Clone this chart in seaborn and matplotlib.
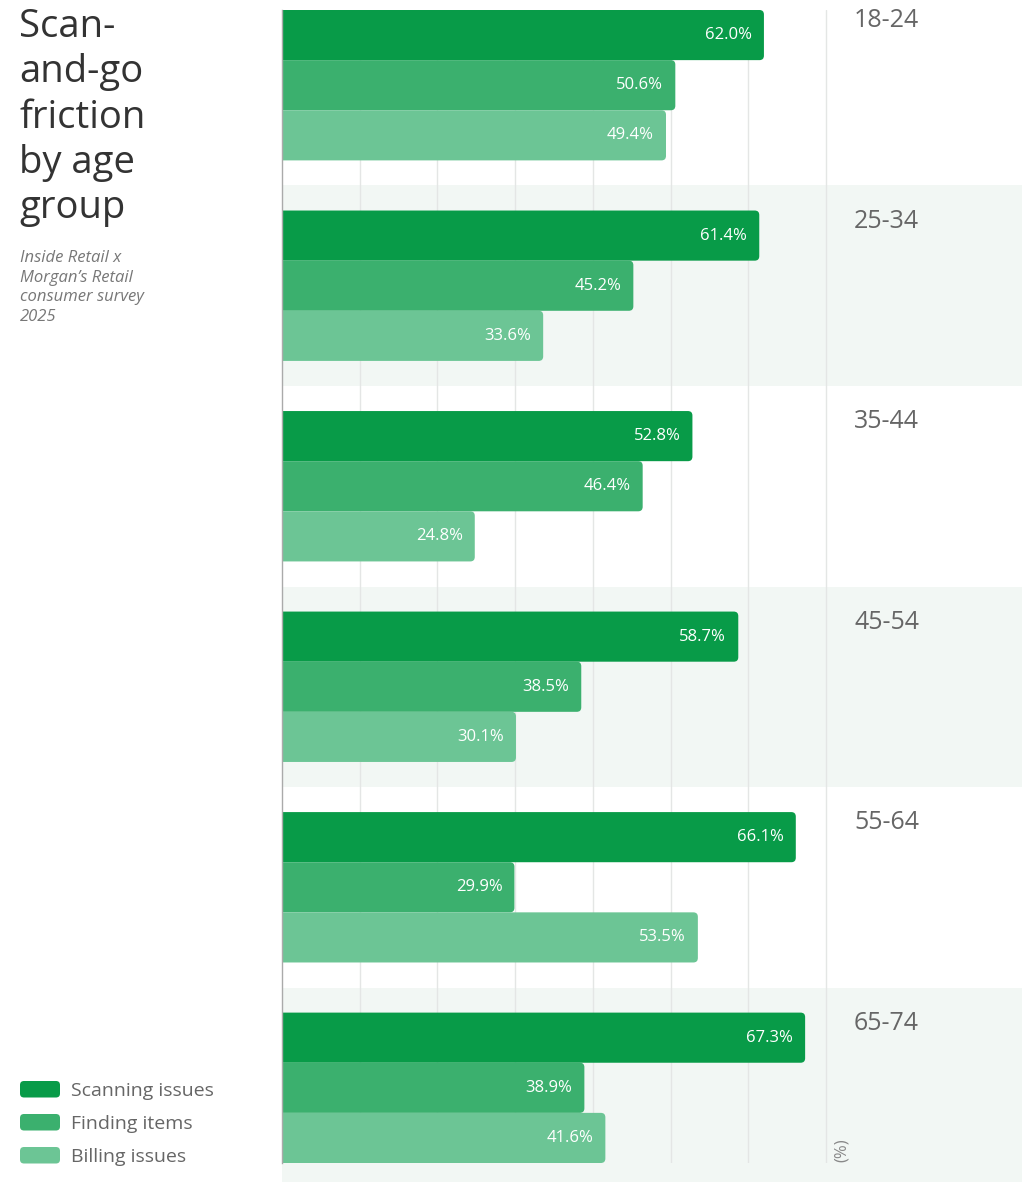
import numpy as np
import pandas as pd
import seaborn as sns
import matplotlib.pyplot as plt
from matplotlib.patches import FancyBboxPatch, Rectangle
import matplotlib.transforms as mtransforms

age_groups = ["18-24", "25-34", "35-44", "45-54", "55-64", "65-74"]
scanning_issues = [62.0, 61.4, 52.8, 58.7, 66.1, 67.3]
finding_items = [50.6, 45.2, 46.4, 38.5, 29.9, 38.9]
billing_issues = [49.4, 33.6, 24.8, 30.1, 53.5, 41.6]
series_names = ["Scanning issues", "Finding items", "Billing issues"]
series_colors = ["#089b48", "#3bb06e", "#6cc595"]

title_lines = ["Scan-", "and-go", "friction", "by age", "group"]
source_lines = ["Inside Retail x", "Morgan\u2019s Retail", "consumer survey", "2025"]

df = pd.DataFrame({
    "age": np.repeat(age_groups, 3),
    "issue": series_names * len(age_groups),
    "share": np.ravel(np.column_stack([scanning_issues, finding_items, billing_issues])),
})

sns.set_theme(style="white")
plt.rcParams["font.family"] = ["Open Sans", "DejaVu Sans"]

W, H = 1022, 1182
fig = plt.figure(figsize=(W / 100, H / 100), dpi=100)

def fx(px):
    return px / W

def fy(py):
    return 1 - py / H

# plot area: x 282..1022, y 10..1163 (pixels from top)
ax = fig.add_axes([fx(282), fy(1163), fx(1022 - 282), (1163 - 10) / H])

sns.barplot(data=df, y="age", x="share", hue="issue", order=age_groups,
            hue_order=series_names, palette=series_colors, orient="h",
            width=0.75, gap=0, saturation=1, legend=False, ax=ax)

xmax = 95.2
ax.set_xlim(0, xmax)
ax.set_ylim(len(age_groups) - 0.625, -0.375)

# replace each bar with a rounded-end version (left side clipped square)
px_per_x = 740 / xmax
px_per_y = (1163 - 10) / 5.75
radius_px = 4.5
bars = list(ax.patches)
for p in bars:
    x0, y0 = p.get_x(), p.get_y()
    w, h = p.get_width(), p.get_height()
    col = p.get_facecolor()
    p.remove()
    shift = 2 * radius_px / px_per_x
    rb = FancyBboxPatch((x0 - shift, y0), w + shift, h,
                        boxstyle=f"round,pad=0,rounding_size={radius_px / px_per_x}",
                        mutation_aspect=px_per_x / px_per_y,
                        facecolor=col, edgecolor="none", zorder=3)
    ax.add_patch(rb)
    ax.text(x0 + w - 12 / px_per_x, y0 + h / 2, f"{w:.1f}%", ha="right", va="center",
            color="white", fontsize=12, zorder=4)

# alternating background bands
for i in range(len(age_groups)):
    if i % 2 == 1:
        band = Rectangle((0, i - 0.5), xmax, 1.0, facecolor="#f2f7f4",
                         edgecolor="none", zorder=0, clip_on=False)
        ax.add_patch(band)

# vertical gridlines
for gx in range(10, 80, 10):
    ax.axvline(gx, color="#e4e6e5", lw=1, zorder=1)

for s in ["top", "right", "bottom"]:
    ax.spines[s].set_visible(False)
ax.spines["left"].set_color("#aaaaaa")
ax.spines["left"].set_linewidth(1)
ax.spines["left"].set_zorder(5)
ax.set_xticks([])
ax.set_yticks([])
ax.set_xlabel("")
ax.set_ylabel("")
ax.set_facecolor("none")

# age group labels at the top of each group
trans = mtransforms.blended_transform_factory(ax.transAxes, ax.transData)
for i, g in enumerate(age_groups):
    ax.text((854 - 282) / 740, i - 0.375 - 2 / px_per_y, g, transform=trans,
            ha="left", va="top", fontsize=18, color="#666666")

ax.text((834 - 282) / 740, 1 / 1153, "(%)", transform=ax.transAxes, rotation=90,
        ha="left", va="bottom", fontsize=12, color="#888888")

# title and source
title_baselines = [37, 82, 128, 173, 218]
for t, b in zip(title_lines, title_baselines):
    fig.text(fx(19), fy(b), t, fontsize=27.5, color="#333333", va="baseline", ha="left")
source_baselines = [262, 282, 301, 321]
for t, b in zip(source_lines, source_baselines):
    fig.text(fx(20), fy(b), t, fontsize=12, color="#777777", style="italic",
             va="baseline", ha="left")

# legend
legend_tops = [1081, 1114, 1147]
for name, col, top in zip(series_names, series_colors, legend_tops):
    sw = FancyBboxPatch((fx(20), fy(top + 16.5)), fx(40), 16.5 / H,
                        boxstyle=f"round,pad=0,rounding_size={fx(4)}",
                        mutation_aspect=W / H, transform=fig.transFigure,
                        facecolor=col, edgecolor="none")
    fig.patches.append(sw)
    fig.text(fx(71), fy(top + 15), name, fontsize=14, color="#666666",
             va="baseline", ha="left")

fig.savefig("out.png", dpi=100)
